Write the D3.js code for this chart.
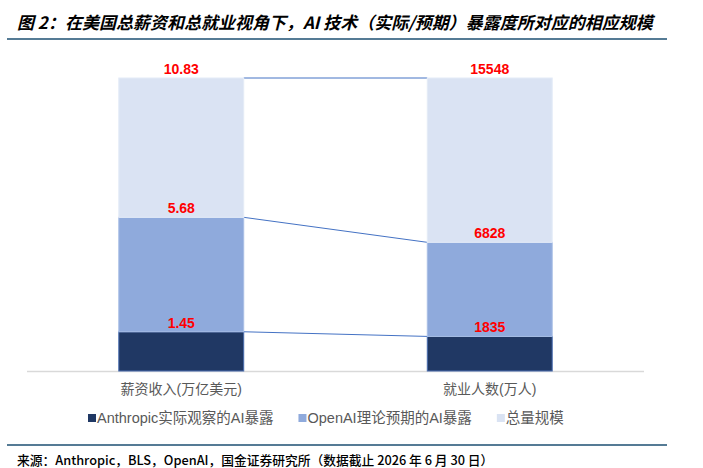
<!DOCTYPE html>
<html>
<head>
  <meta charset="UTF-8">
  <title>AI exposure scale</title>
  <script src="https://cdnjs.cloudflare.com/ajax/libs/d3/7.8.5/d3.min.js"></script>
  <style>
    html, body { margin: 0; padding: 0; background: #fff; }
    svg { display: block; }
    .title { font-family: "Noto Sans CJK SC", sans-serif; font-weight: 700; font-style: italic; font-size: 17px; fill: #000; }
    .cat { font-family: "Liberation Sans", "Noto Sans CJK SC", sans-serif; font-size: 14px; fill: #595959; }
    .leg { font-family: "Liberation Sans", "Noto Sans CJK SC", sans-serif; font-size: 14.5px; fill: #595959; }
    .val { font-family: "Liberation Sans", Arial, sans-serif; font-weight: 700; font-size: 14px; fill: #ff0000; }
    .src { font-family: "Noto Sans CJK SC", sans-serif; font-weight: 500; font-size: 12.75px; fill: #000; }
  </style>
</head>
<body>
<script>
  // data
  var categories = ["薪资收入(万亿美元)", "就业人数(万人)"];
  var actualExposure = [1.45, 1835];      // Anthropic 实际观察
  var theoryExposure = [5.68, 6828];      // OpenAI 理论预期
  var totalScale = [10.83, 15548];        // 总量规模
  var seriesNames = ["Anthropic实际观察的AI暴露", "OpenAI理论预期的AI暴露", "总量规模"];
  var seriesColors = ["#203864", "#8faadc", "#dae3f3"];
  var seriesStroke = ["#4a6db0", "#a9bfe6", "#e4ebf7"];

  var W = 703, H = 468;
  var svg = d3.select("body").append("svg").attr("width", W).attr("height", H);

  // title + rules
  svg.append("text").attr("class", "title").attr("x", 17).attr("y", 29)
    .text("图 2：在美国总薪资和总就业视角下，AI 技术（实际/预期）暴露度所对应的相应规模");
  svg.append("line").attr("x1", 7).attr("x2", 667).attr("y1", 39).attr("y2", 39)
    .attr("stroke", "#1c4f72").attr("stroke-width", 1.5);
  svg.append("line").attr("x1", 7).attr("x2", 667).attr("y1", 445).attr("y2", 445)
    .attr("stroke", "#1c4f72").attr("stroke-width", 1.5);
  svg.append("text").attr("class", "src").attr("x", 17).attr("y", 465)
    .text("来源：Anthropic，BLS，OpenAI，国金证券研究所（数据截止 2026 年 6 月 30 日）");

  // shares of total (bars are 100% stacked)
  var rows = categories.map(function(c, i) {
    return {
      cat: c,
      a: actualExposure[i] / totalScale[i],
      b: (theoryExposure[i] - actualExposure[i]) / totalScale[i],
      c: (totalScale[i] - theoryExposure[i]) / totalScale[i],
      labels: [actualExposure[i], theoryExposure[i], totalScale[i]]
    };
  });
  var keys = ["a", "b", "c"];
  var stacked = d3.stack().keys(keys)(rows);

  var x = d3.scaleBand().domain(categories).range([27, 644])
    .paddingInner(0.595).paddingOuter(0.2975);
  var y = d3.scaleLinear().domain([0, 1]).range([371, 78]);

  // axis line
  svg.append("line").attr("x1", 27).attr("x2", 644).attr("y1", 371.5).attr("y2", 371.5)
    .attr("stroke", "#d9d9d9").attr("stroke-width", 1.5);

  // connector lines between segment tops
  var lines = svg.append("g");
  stacked.forEach(function(s) {
    lines.append("line")
      .attr("x1", x(categories[0]) + x.bandwidth())
      .attr("y1", y(s[0][1]))
      .attr("x2", x(categories[1]))
      .attr("y2", y(s[1][1]))
      .attr("stroke", "#4472c4").attr("stroke-width", 1);
  });

  var layers = svg.selectAll("g.layer").data(stacked).enter().append("g")
    .attr("class", "layer")
    .attr("fill", function(d, i) { return seriesColors[i]; })
    .attr("stroke", function(d, i) { return seriesStroke[i]; });

  layers.selectAll("rect").data(function(d) { return d; }).enter().append("rect")
    .attr("x", function(d) { return x(d.data.cat); })
    .attr("width", x.bandwidth())
    .attr("y", function(d) { return y(d[1]); })
    .attr("height", function(d) { return y(d[0]) - y(d[1]); })
    .attr("stroke-width", 1);

  // value labels (cumulative figures above each segment)
  stacked.forEach(function(s, k) {
    s.forEach(function(d) {
      svg.append("text").attr("class", "val")
        .attr("x", x(d.data.cat) + x.bandwidth() / 2)
        .attr("y", y(d[1]) - 4)
        .attr("text-anchor", "middle")
        .text(d.data.labels[k]);
    });
  });

  // category labels
  svg.selectAll("text.cat").data(categories).enter().append("text")
    .attr("class", "cat")
    .attr("x", function(d) { return x(d) + x.bandwidth() / 2; })
    .attr("y", 394)
    .attr("text-anchor", "middle")
    .text(function(d) { return d; });

  // legend
  var lx = 88;
  seriesNames.forEach(function(n, i) {
    var g = svg.append("g").attr("transform", "translate(" + lx + ",0)");
    g.append("rect").attr("x", 0).attr("y", 414).attr("width", 8).attr("height", 8)
      .attr("fill", seriesColors[i]);
    var t = g.append("text").attr("class", "leg").attr("x", 9).attr("y", 423).text(n);
    lx += 9 + t.node().getComputedTextLength() + 25;
  });
</script>
</body>
</html>
